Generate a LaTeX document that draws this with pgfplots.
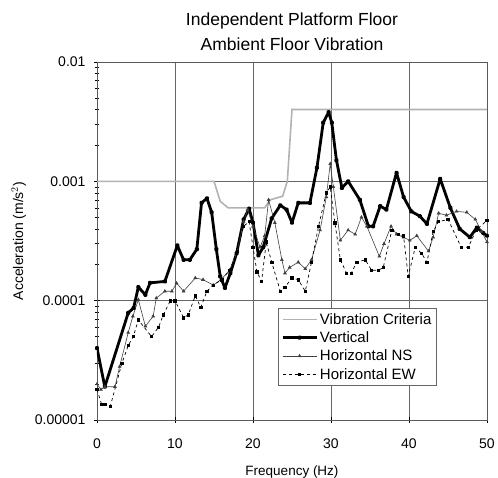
\documentclass[border=0pt]{standalone}
\usepackage{pgfplots}
\pgfplotsset{compat=1.18}
\usepackage{fontspec}
\setmainfont{Liberation Sans}
\begin{document}
\begin{tikzpicture}
\path[use as bounding box] (-97pt,-58pt) rectangle (401pt,420pt);
\begin{axis}[
  scale only axis, width=390pt, height=358pt,
  ymode=log, xmin=0, xmax=50, ymin=1e-5, ymax=1e-2,
  xtick={0,10,20,30,40,50},
  ytick={1e-5,1e-4,1e-3,1e-2},
  yticklabels={0.00001,0.0001,0.001,0.01},
  /pgf/number format/assume math mode=true,
  tick label style={font=\fontsize{14}{16}\selectfont},
  yticklabel style={xshift=-5pt},
  xticklabel style={yshift=-12pt},
  grid=major, major grid style={gray!80!black, line width=0.5pt},
  axis line style={gray!70!black, line width=0.6pt},
  tick style={black, line width=0.5pt},
  tick align=center,
  minor tick length=4pt, major tick length=6pt,
  xtick pos=bottom, ytick pos=left,
  xlabel={Frequency (Hz)},
  ylabel={Acceleration (m/s$^2$)},
  xlabel style={font=\fontsize{13.5}{15}\selectfont, yshift=-10pt},
  ylabel style={font=\fontsize{14}{16}\selectfont, yshift=2pt},
  title={Independent Platform Floor\\Ambient Floor Vibration},
  title style={font=\fontsize{17.5}{25}\selectfont, align=center, yshift=2pt},
  legend style={at={(0.464,0.313)}, anchor=north west, draw=gray!80!black,
    font=\fontsize{15}{17}\selectfont, row sep=2pt, inner sep=3pt, fill=white},
  legend cell align=left,
  legend image code/.code={\draw[mark repeat=2, mark phase=2, #1] plot coordinates {(0pt,0pt) (17pt,0pt) (34pt,0pt)};},
]
\addplot[gray!60, line width=1.6pt] coordinates {
(0,1e-3) (15,1e-3) (15.8,6.8e-4) (16.8,6e-4) (21.5,6e-4) (22.2,7e-4) (23.8,7.5e-4) (24.4,1.0e-3) (25.0,4e-3) (50,4e-3)
};
\addlegendentry{Vibration Criteria}
\addplot[black, line width=2.8pt, line join=round, mark=*, mark size=1pt] coordinates {
(0,4.0e-5) (1,1.9e-5) (4,7.9e-5) (4.7,8.7e-5) (5.3,1.3e-4) (6.2,1.12e-4) (6.8,1.41e-4) (8.7,1.45e-4)
(10.3,2.9e-4) (11.1,2.2e-4) (11.9,2.2e-4) (12.8,2.7e-4) (13.4,6.6e-4) (14.1,7.2e-4) (14.7,5.5e-4)
(15.3,2.7e-4) (15.8,1.6e-4) (16.4,1.28e-4) (17.1,1.7e-4) (17.9,2.5e-4) (18.8,4.8e-4) (19.5,5.9e-4)
(20.0,4.5e-4) (20.7,2.4e-4) (21.3,2.8e-4) (22.4,4.9e-4) (23.5,6.3e-4) (24.3,5.8e-4) (25.0,4.5e-4)
(25.8,6.6e-4) (27.3,6.6e-4) (28.2,1.3e-3) (29.0,3.1e-3) (29.7,3.8e-3) (30.1,3.1e-3) (30.7,1.5e-3)
(31.4,8.8e-4) (32.2,1.0e-3) (33.7,7.0e-4) (34.8,4.2e-4) (35.4,4.2e-4) (36.3,6.2e-4) (37.1,5.8e-4)
(38.4,1.18e-3) (39.3,7.4e-4) (40.3,5.6e-4) (41.4,5.1e-4) (42.3,4.4e-4) (44.0,1.05e-3) (45.3,6.0e-4)
(46.5,4.0e-4) (47.8,3.4e-4) (48.7,4.1e-4) (49.5,3.7e-4) (50,3.5e-4)
};
\addlegendentry{Vertical}
\addplot[gray!50!black, line width=0.6pt, mark=triangle*, mark size=1.6pt] coordinates {
(0,2.0e-5) (0.5,1.8e-5) (1,1.9e-5) (2.3,1.9e-5) (2.9,2.8e-5) (4.0,5.4e-5) (4.6,7.4e-5) (5.3,1.02e-4)
(6.2,6.1e-5) (7.2,7.4e-5) (7.6,1.05e-4) (8.7,1.2e-4) (9.6,1.2e-4) (10.2,1.4e-4) (11.1,1.2e-4)
(12.6,1.55e-4) (13.6,1.5e-4) (14.9,1.35e-4) (15.9,1.5e-4) (17.0,1.8e-4) (18.0,2.6e-4) (18.8,4.6e-4)
(19.3,5.8e-4) (20.0,4.2e-4) (20.9,2.8e-4) (21.5,3.5e-4) (22.0,7.0e-4) (22.8,4.5e-4) (23.7,2.2e-4)
(24.1,1.7e-4) (24.7,1.9e-4) (25.8,2.1e-4) (26.7,1.85e-4) (27.5,2.2e-4) (28.6,3.9e-4) (29.4,7.4e-4)
(29.9,1.4e-3) (30.3,9e-4) (31.2,3.2e-4) (32.2,3.9e-4) (33.1,3.6e-4) (33.9,5.0e-4) (34.6,4.2e-4)
(36.2,2.35e-4) (36.8,3.0e-4) (37.7,4.2e-4) (38.4,3.6e-4) (39.3,3.4e-4) (40.1,3.2e-4) (41.0,3.5e-4)
(42.5,2.6e-4) (43.1,3.4e-4) (43.8,5.4e-4) (44.8,5.2e-4) (46.1,5.6e-4) (47.4,5.5e-4) (48.5,4.8e-4)
(49.3,3.8e-4) (50,3.1e-4)
};
\addlegendentry{Horizontal NS}
\addplot[black, line width=0.7pt, dashed, mark=square*, mark size=1.2pt, mark options={solid}] coordinates {
(0,1.8e-5) (0.6,1.35e-5) (1.0,1.35e-5) (1.7,1.3e-5) (3.2,3.0e-5) (4.0,4.2e-5) (4.65,5.0e-5) (5.3,6.9e-5)
(7.0,5.0e-5) (7.9,6.0e-5) (8.5,7.6e-5) (9.4,1.0e-4) (10.0,1.0e-4) (11.1,7.2e-5) (11.7,7.6e-5)
(12.6,1.1e-4) (13.3,8.8e-5) (14.1,1.2e-4) (14.9,1.35e-4) (16.0,1.5e-4) (17.0,1.8e-4) (18.0,2.6e-4)
(18.8,4.2e-4) (19.5,4.6e-4) (20.0,2.8e-4) (20.5,1.75e-4) (21.1,1.45e-4) (21.7,3.1e-4) (22.4,2.1e-4)
(23.5,1.2e-4) (24.1,1.3e-4) (25.0,1.55e-4) (25.8,1.5e-4) (26.7,1.2e-4) (27.5,2.1e-4) (28.4,4.2e-4)
(29.4,8e-4) (29.9,9e-4) (30.5,4.5e-4) (31.2,2.2e-4) (32.0,1.7e-4) (32.6,1.7e-4) (33.3,2.1e-4)
(34.4,2.2e-4) (35.2,1.8e-4) (36.1,1.8e-4) (36.7,1.9e-4) (37.8,3.9e-4) (38.6,3.6e-4) (39.3,3.5e-4)
(39.9,1.6e-4) (40.8,2.8e-4) (41.6,2.5e-4) (42.3,2.1e-4) (43.1,3.8e-4) (43.8,4.6e-4) (45.0,4.8e-4)
(46.7,2.8e-4) (47.6,2.8e-4) (48.6,3.9e-4) (50,4.7e-4)
};
\addlegendentry{Horizontal EW}
\end{axis}
\end{tikzpicture}
\end{document}
